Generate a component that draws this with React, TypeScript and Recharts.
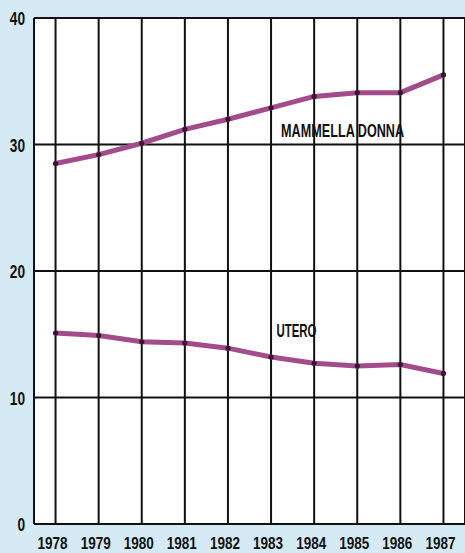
import React from "react";
import { LineChart, Line, XAxis, YAxis, CartesianGrid, ReferenceDot } from "recharts";

const years = [1978, 1979, 1980, 1981, 1982, 1983, 1984, 1985, 1986, 1987];
const mammella = [28.5, 29.2, 30.1, 31.2, 32.0, 32.9, 33.8, 34.1, 34.1, 35.5];
const utero = [15.1, 14.9, 14.4, 14.3, 13.9, 13.2, 12.7, 12.5, 12.6, 11.9];
const yTicks = [0, 10, 20, 30, 40];
const labelMammella = "MAMMELLA DONNA";
const labelUtero = "UTERO";

const data = years.map((y, i) => ({ year: y, mammella: mammella[i], utero: utero[i] }));

const FONT = "'Liberation Sans', Arial, sans-serif";

const XTick = (props: any) => {
  const { x, y, payload } = props;
  return (
    <text x={x - 18} y={y + 17} textAnchor="start" fontFamily={FONT} fontWeight="bold" fontSize={16}
      fill="#111" textLength={30} lengthAdjust="spacingAndGlyphs">
      {payload.value}
    </text>
  );
};

const YTick = (props: any) => {
  const { y, payload } = props;
  return (
    <text transform={`translate(25, ${y + 7}) scale(0.72, 1)`} textAnchor="end" fontFamily={FONT}
      fontWeight="bold" fontSize={19} fill="#111">
      {String(payload.value)}
    </text>
  );
};

const Dot = (props: any) => {
  const { cx, cy } = props;
  return <circle cx={cx} cy={cy} r={2.6} fill="#3a1530" />;
};

const makeLabel = (text: string, width: number) => (p: any) => (
  <text x={p.cx - width / 2} y={p.cy} textAnchor="start" fontFamily={FONT} fontWeight="bold" fontSize={18}
    fill="#111" textLength={width} lengthAdjust="spacingAndGlyphs">
    {text}
  </text>
);

export default function App() {
  return (
    <div style={{ position: "absolute", left: 0, top: 0, width: 465, height: 553, background: "#d5eaf5" }}>
      <LineChart width={465} height={553} data={data} margin={{ top: 18, right: 0, bottom: 0, left: 0 }}>
        <CartesianGrid stroke="#111" strokeWidth={2} fill="#ffffff" fillOpacity={1} />
        <XAxis dataKey="year" type="number" domain={[1977.5, 1987.5]} ticks={years} allowDataOverflow
          tickLine={false} axisLine={{ stroke: "#111", strokeWidth: 2 }} height={29} tick={<XTick />} interval={0} />
        <YAxis domain={[0, 40]} ticks={yTicks} width={34} tickLine={false}
          axisLine={{ stroke: "#111", strokeWidth: 2 }} tick={<YTick />} interval={0} />
        <Line type="linear" dataKey="mammella" stroke="#a24c8c" strokeWidth={5} dot={<Dot />} isAnimationActive={false} />
        <Line type="linear" dataKey="utero" stroke="#a24c8c" strokeWidth={5} dot={<Dot />} isAnimationActive={false} />
        <ReferenceDot x={1984.66} y={30.6} r={0} shape={makeLabel(labelMammella, 123)} />
        <ReferenceDot x={1983.59} y={14.8} r={0} shape={makeLabel(labelUtero, 40)} />
      </LineChart>
    </div>
  );
}
